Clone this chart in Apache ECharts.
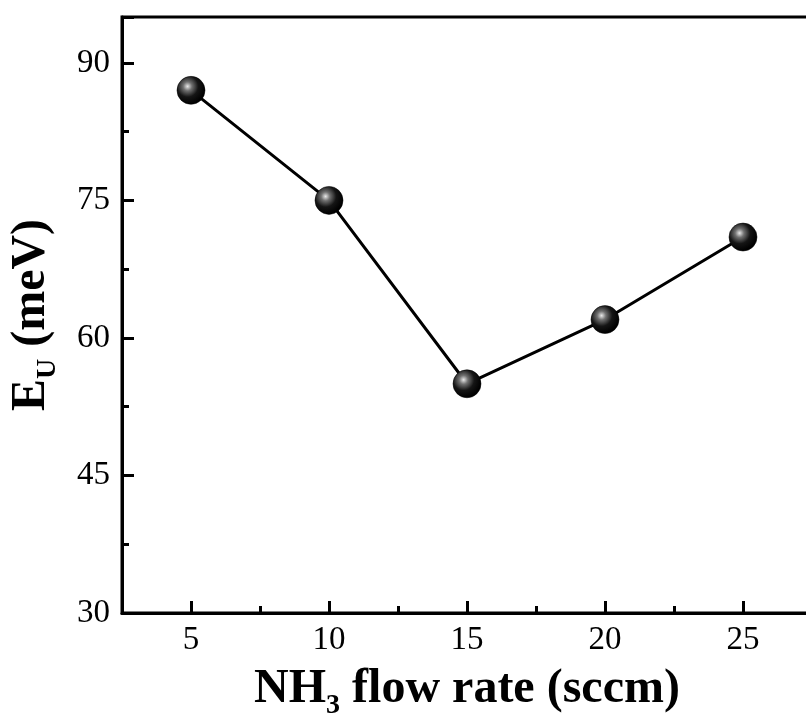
<!DOCTYPE html>
<html>
<head>
<meta charset="utf-8">
<script src="https://cdn.jsdelivr.net/npm/echarts@6/dist/echarts.min.js"></script>
<style>html,body{margin:0;padding:0;background:#fff}#c{width:806px;height:720px}</style>
</head>
<body>
<div id="c"></div>
<script>
const flowRates = [5, 10, 15, 20, 25];
const energies = [87, 75, 55, 62, 71];
const xMajorTicks = [5, 10, 15, 20, 25];
const xMinorTicks = [7.5, 12.5, 17.5, 22.5];
const yTickLabels = [30, 45, 60, 75, 90];

const chart = echarts.init(document.getElementById('c'));
const font = 'Liberation Serif';
const sphere = {
  type: 'radial', x: 0.38, y: 0.36, r: 0.62,
  colorStops: [
    {offset: 0, color: '#e8e8e8'},
    {offset: 0.25, color: '#707070'},
    {offset: 0.6, color: '#151515'},
    {offset: 1, color: '#000'}
  ]
};
chart.setOption({
  animation: false,
  backgroundColor: '#fff',
  grid: {left: 122, right: -6, top: 17, bottom: 107, show: true, borderColor: '#000', borderWidth: 3, backgroundColor: 'transparent', outerBoundsMode: 'none', containLabel: false},
  xAxis: [{
    type: 'value', min: 2.5, max: 27.5,
    axisLine: {show: true, lineStyle: {color: '#000', width: 3}},
    axisTick: {show: true, inside: true, length: 12, lineStyle: {color: '#000', width: 3}, customValues: xMajorTicks},
    axisLabel: {customValues: xMajorTicks, color: '#000', fontFamily: font, fontSize: 33, margin: 11},
    splitLine: {show: false},
    name: '{b|NH}{s|3}{b| flow rate (sccm)}',
    nameLocation: 'middle', nameGap: 47,
    nameTextStyle: {
      rich: {
        b: {fontFamily: font, fontWeight: 'bold', fontSize: 48, color: '#000'},
        s: {fontFamily: font, fontWeight: 'bold', fontSize: 28, color: '#000', padding: [32, 0, 0, 0]}
      }
    }
  }, {
    type: 'value', min: 2.5, max: 27.5, position: 'bottom',
    axisLine: {show: false},
    axisTick: {show: true, inside: true, length: 7, lineStyle: {color: '#000', width: 3}, customValues: xMinorTicks},
    axisLabel: {show: false},
    splitLine: {show: false}
  }],
  yAxis: {
    type: 'value', min: 30, max: 95, interval: 15,
    axisLine: {show: true, lineStyle: {color: '#000', width: 3}},
    axisTick: {show: true, inside: true, length: 12, lineStyle: {color: '#000', width: 3}},
    minorTick: {show: true, splitNumber: 2, length: 7, lineStyle: {color: '#000', width: 3}},
    axisLabel: {customValues: yTickLabels, color: '#000', fontFamily: font, fontSize: 33, margin: 12},
    splitLine: {show: false},
    minorSplitLine: {show: false},
    name: '{b|E}{s|U}{b| (meV)}',
    nameLocation: 'middle', nameGap: 60, nameRotate: 90,
    nameTextStyle: {
      rich: {
        b: {fontFamily: font, fontWeight: 'bold', fontSize: 48, color: '#000'},
        s: {fontFamily: font, fontWeight: 'bold', fontSize: 28, color: '#000', padding: [32, 0, 0, 0]}
      }
    }
  },
  series: [{
    type: 'line',
    data: flowRates.map((x, i) => [x, energies[i]]),
    symbol: 'circle', symbolSize: 28,
    lineStyle: {color: '#000', width: 3},
    itemStyle: {color: sphere, borderColor: '#000', borderWidth: 0.5},
    z: 5
  }]
});
</script>
</body>
</html>
